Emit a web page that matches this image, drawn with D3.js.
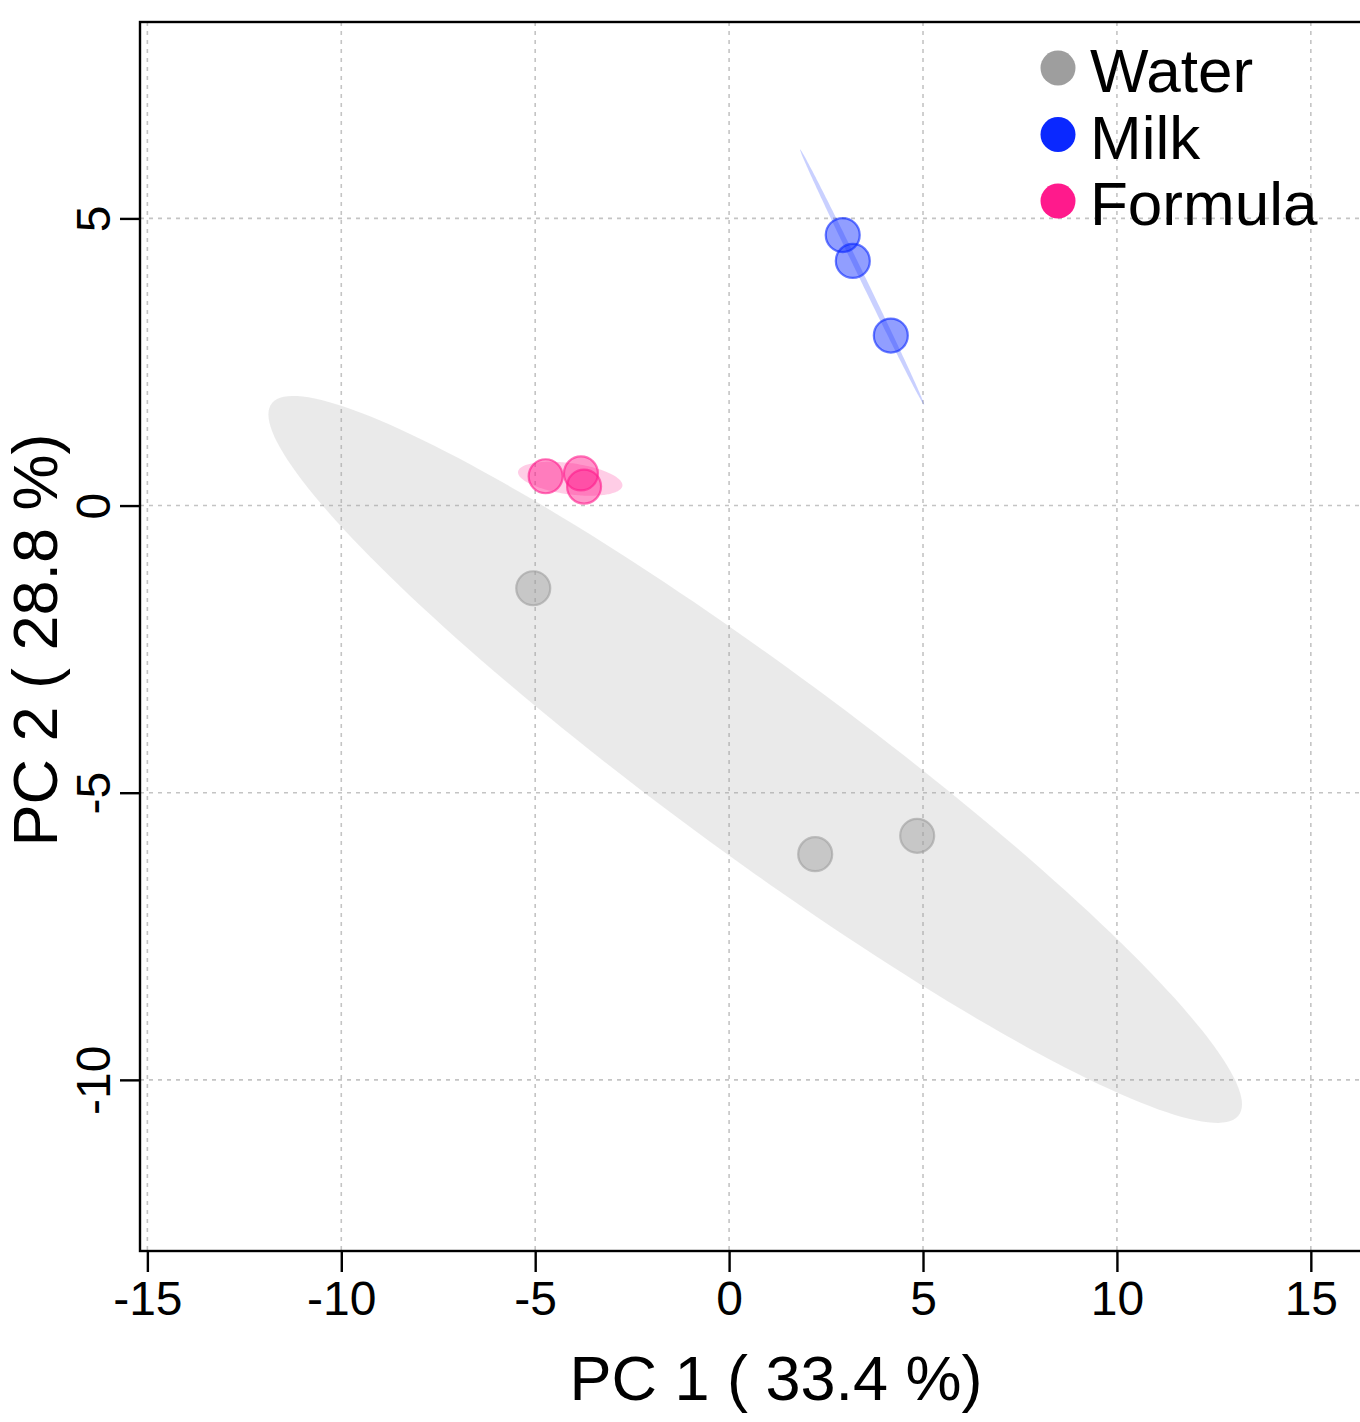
<!DOCTYPE html>
<html>
<head>
<meta charset="utf-8">
<script src="https://cdn.jsdelivr.net/npm/d3@7"></script>
<style>
  html, body { margin: 0; padding: 0; background: #fff; }
  svg { display: block; font-family: "Liberation Sans", Arial, Helvetica, sans-serif; }
</style>
</head>
<body>
<svg id="chart" width="1360" height="1422"></svg>
<script>
// Sample groups and their PCA scores
const groups = ["Water", "Milk", "Formula"];
const groupColors = ["#9e9e9e", "#0a28ff", "#ff1a8c"];

const waterPC1 = [-5.05, 2.22, 4.85];
const waterPC2 = [-1.44, -6.07, -5.75];
const milkPC1 = [2.93, 3.19, 4.17];
const milkPC2 = [4.71, 4.26, 2.96];
const formulaPC1 = [-4.73, -3.82, -3.74];
const formulaPC2 = [0.51, 0.56, 0.33];

const xTicks = [-15, -10, -5, 0, 5, 10, 15];
const yTicks = [-10, -5, 0, 5];
const xTitle = "PC 1 ( 33.4 %)";
const yTitle = "PC 2 ( 28.8 %)";

const scores = [
  { group: "Water", pc1: waterPC1, pc2: waterPC2 },
  { group: "Milk", pc1: milkPC1, pc2: milkPC2 },
  { group: "Formula", pc1: formulaPC1, pc2: formulaPC2 }
];

const color = d3.scaleOrdinal().domain(groups).range(groupColors);
const plainNumber = d => String(d);

const svg = d3.select("#chart");
const x = d3.scaleLinear().domain([-15.19, 16.5]).range([140, 1369]);
const y = d3.scaleLinear().domain([-12.98, 8.42]).range([1251, 22]);
const [x0, x1] = x.range();
const [y0, y1] = y.range();

// Dashed grid
const grid = svg.append("g").attr("stroke", "#c4c4c4").attr("stroke-width", 1.6)
  .attr("stroke-dasharray", "4,5");
grid.selectAll("line.v").data(xTicks).join("line").attr("class", "v")
  .attr("x1", d => x(d)).attr("x2", d => x(d)).attr("y1", y1).attr("y2", y0);
grid.selectAll("line.h").data(yTicks).join("line").attr("class", "h")
  .attr("y1", d => y(d)).attr("y2", d => y(d)).attr("x1", x0).attr("x2", x1);

// 95% normal confidence ellipses from each group's covariance
const level = 0.95;
const tRadius = Math.sqrt(-2 * Math.log(1 - level)); // sqrt(qchisq(level, 2))
function ellipsePoints(xs, ys) {
  const n = xs.length;
  const mx = d3.mean(xs), my = d3.mean(ys);
  let sxx = 0, syy = 0, sxy = 0;
  for (let i = 0; i < n; i++) {
    const dx = xs[i] - mx, dy = ys[i] - my;
    sxx += dx * dx; syy += dy * dy; sxy += dx * dy;
  }
  sxx /= n - 1; syy /= n - 1; sxy /= n - 1;
  const tr = sxx + syy, det = sxx * syy - sxy * sxy;
  const disc = Math.sqrt(Math.max(tr * tr / 4 - det, 0));
  const l1 = tr / 2 + disc, l2 = Math.max(tr / 2 - disc, 0);
  let vx = sxy, vy = l1 - sxx;
  if (Math.abs(vx) < 1e-12 && Math.abs(vy) < 1e-12) { vx = 1; vy = 0; }
  const len = Math.hypot(vx, vy);
  vx /= len; vy /= len;
  const a = tRadius * Math.sqrt(l1), b = tRadius * Math.sqrt(l2);
  return d3.range(0, 200).map(k => {
    const th = 2 * Math.PI * k / 200;
    const u = a * Math.cos(th), v = b * Math.sin(th);
    return [mx + u * vx - v * vy, my + u * vy + v * vx];
  });
}

const line = d3.line().x(d => x(d[0])).y(d => y(d[1])).curve(d3.curveLinearClosed);
svg.append("g").selectAll("path").data(scores).join("path")
  .attr("d", d => line(ellipsePoints(d.pc1, d.pc2)))
  .attr("fill", d => color(d.group))
  .attr("fill-opacity", 0.22)
  .attr("stroke", "none");

// Sample points
const pts = scores.flatMap(s => s.pc1.map((v, i) => ({ group: s.group, pc1: v, pc2: s.pc2[i] })));
svg.append("g").selectAll("circle").data(pts).join("circle")
  .attr("cx", d => x(d.pc1)).attr("cy", d => y(d.pc2)).attr("r", 17)
  .attr("fill", d => color(d.group)).attr("fill-opacity", 0.45)
  .attr("stroke", d => color(d.group)).attr("stroke-opacity", 0.6)
  .attr("stroke-width", 2.2);

// Frame
const frame = svg.append("g").attr("stroke", "#000").attr("stroke-width", 2.4).attr("fill", "none");
frame.append("rect").attr("x", x0).attr("y", y1).attr("width", x1 - x0).attr("height", y0 - y1);

// X axis
const xAxis = svg.append("g").attr("transform", `translate(0,${y0})`)
  .call(d3.axisBottom(x).tickValues(xTicks).tickSize(21).tickPadding(0).tickFormat(plainNumber));
xAxis.select(".domain").remove();
xAxis.selectAll(".tick line").attr("stroke", "#000").attr("stroke-width", 2.4);
xAxis.selectAll(".tick text").attr("fill", "#000").attr("font-size", 48)
  .attr("font-family", "Liberation Sans, Arial, sans-serif")
  .attr("y", 64).attr("dy", 0);

// Y axis (rotated labels)
const yAxis = svg.append("g").attr("transform", `translate(${x0},0)`)
  .call(d3.axisLeft(y).tickValues(yTicks).tickSize(20).tickFormat(plainNumber));
yAxis.select(".domain").remove();
yAxis.selectAll(".tick line").attr("stroke", "#000").attr("stroke-width", 2.4);
yAxis.selectAll(".tick text").attr("fill", "#000").attr("font-size", 48)
  .attr("font-family", "Liberation Sans, Arial, sans-serif")
  .attr("x", null).attr("dy", 0)
  .attr("text-anchor", "middle")
  .attr("transform", "translate(-30,0) rotate(-90)");

// Axis titles
svg.append("text").attr("x", 776).attr("y", 1400).attr("text-anchor", "middle")
  .attr("font-size", 63).attr("fill", "#000").text(xTitle);
svg.append("text").attr("transform", "translate(57,640) rotate(-90)")
  .attr("text-anchor", "middle").attr("font-size", 63).attr("fill", "#000").text(yTitle);

// Legend
const legend = svg.append("g").attr("transform", "translate(1058,68)");
const item = legend.selectAll("g").data(groups).join("g")
  .attr("transform", (d, i) => `translate(0,${i * 66.5})`);
item.append("circle").attr("r", 17.5).attr("fill", d => color(d));
item.append("text").attr("x", 32).attr("y", 24).attr("font-size", 62).attr("fill", "#000").text(d => d);
</script>
</body>
</html>
